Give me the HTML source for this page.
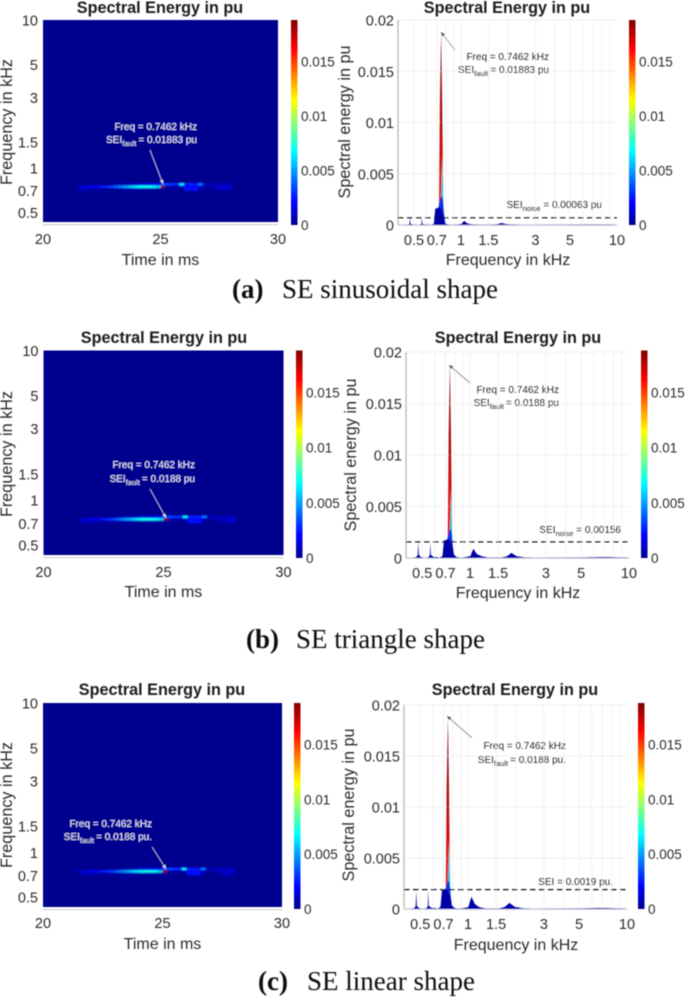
<!DOCTYPE html>
<html lang="en">
<head>
<meta charset="utf-8">
<title>Spectral Energy in pu</title>
<style>
html,body{margin:0;padding:0;background:#fff;}
#figure{display:block;width:685px;height:998px;}
text{font-family:"Liberation Sans",sans-serif;}
text.cap{font-family:"Liberation Serif",serif;font-size:27px;}
</style>
</head>
<body>
<svg id="figure" xmlns="http://www.w3.org/2000/svg" width="685" height="998" viewBox="0 0 685 998">
<defs>
<filter id="soft" x="-5%" y="-5%" width="110%" height="110%"><feGaussianBlur stdDeviation="0.42"/></filter>
<filter id="heatBlur" x="-20%" y="-200%" width="140%" height="500%"><feGaussianBlur stdDeviation="0.4"/></filter>
<linearGradient id="jet" x1="0" y1="1" x2="0" y2="0">
<stop offset="0" stop-color="#00008f"/><stop offset="0.11" stop-color="#0000ff"/><stop offset="0.36" stop-color="#00ffff"/><stop offset="0.61" stop-color="#ffff00"/><stop offset="0.86" stop-color="#ff0000"/><stop offset="1" stop-color="#800000"/>
</linearGradient>
<linearGradient id="peakRed" x1="0" y1="0" x2="0" y2="1">
<stop offset="0" stop-color="#7a0a20"/><stop offset="0.4" stop-color="#b01010"/><stop offset="0.75" stop-color="#e81010"/><stop offset="1" stop-color="#e81010"/>
</linearGradient>
<linearGradient id="peakCyan" x1="0" y1="0" x2="0" y2="1">
<stop offset="0" stop-color="#50e8c8"/><stop offset="0.55" stop-color="#10c8f0"/><stop offset="1" stop-color="#0070ff"/>
</linearGradient>
</defs>
<g id="root" filter="url(#soft)" fill="#2b2b2b"></g>
</svg>
<script>
// ---------- chart data ----------
const colorbarTicks = [0, 0.005, 0.01, 0.015];
const colorbarMax = 0.0188;
const heatFreqTicks = [0.5, 0.7, 1, 1.5, 3, 5, 10];
const heatTimeTicks = [20, 25, 30];
const spectrumFreqTicks = [0.5, 0.7, 1, 1.5, 3, 5, 10];
const spectrumGridFreqs = [0.5, 0.6, 0.7, 0.8, 0.9, 1, 1.5, 2, 3, 4, 5, 6, 7, 8, 9];
const spectrumEnergyTicks = [0, 0.005, 0.01, 0.015, 0.02];

const heatTimes = [21.4,21.6,21.8,22,22.2,22.4,22.6,22.8,23,23.2,23.4,23.6,23.8,24,24.2,24.4,24.6,24.8,25,25.2,25.4,25.6,25.8,26,26.2,26.4,26.6,26.8,27,27.2,27.4,27.6,27.8,28];
const heatRowUpper = [0,0,0,0,0,0,0,0,0.0003,0.0004,0.0006,0.0008,0.001,0.0012,0.0014,0.0015,0.0016,0.0018,0.0035,0.0032,0.003,0.0028,0.0065,0.0024,0.0024,0.0024,0.0042,0.0009,0.0007,0.0007,0.0008,0.0008,0.0008,0];
const heatRowMain = [0.0008,0.0014,0.0016,0.0017,0.002,0.0024,0.0028,0.0032,0.0038,0.0044,0.005,0.0056,0.0062,0.0068,0.007,0.007,0.0066,0.0058,0.0188,0.0008,0.0006,0.0006,0.0006,0.0022,0.0022,0.0022,0.0008,0.0004,0.0004,0.0006,0.0012,0.0012,0.0012,0];
const heatRowLower = [0.0002,0.0008,0.0008,0.0006,0.0003,0.0002,0.0002,0.0003,0.0004,0.0004,0.0004,0.0004,0.0004,0.0004,0.0004,0.0004,0.0003,0.0002,0.0002,0,0,0,0,0.0022,0.0022,0.0022,0.0004,0,0,0,0.0008,0.001,0.0008,0];
const heatRowEdges = [0.70, 0.73, 0.76, 0.79];

const spectrumFreqs = [0.44,0.46,0.468,0.472,0.476,0.49,0.51,0.535,0.55,0.558,0.562,0.566,0.59,0.62,0.64,0.67,0.685,0.71,0.74,0.77,0.79,0.82,0.87,0.95,1,1.05,1.1,1.17,1.3,1.55,1.7,1.82,1.95,2.2,2.5,4.5,7,9,10];
const baseSinusoidal = [0,0.00002,0.0001,0.0007,0.0001,0.00002,0,0,0.00002,0.0001,0.0007,0.0001,0.00002,0.00001,0,0.0001,0.0016,0.0017,0.0017,0.0009,0.0002,0.00004,0,0.00002,0.00008,0.0004,0.00015,0.00006,0.00001,0.00001,0.00006,0.0002,0.00008,0.00002,0,0.00001,0.00004,0.00002,0];
const baseTriangle = [0,0.0001,0.0003,0.0015,0.0003,0.0001,0,0,0.0001,0.0003,0.0015,0.0003,0.0001,0.0001,0,0.0002,0.0017,0.0018,0.0018,0.0012,0.0004,0.0001,0,0.0001,0.0002,0.0009,0.0004,0.0002,0.00003,0.00003,0.00015,0.0005,0.0002,0.00005,0,0.00002,0.0001,0.00004,0];
const baseLinear = [0,0.0001,0.0003,0.0018,0.0003,0.0001,0,0,0.0001,0.0003,0.0018,0.0003,0.0001,0.0001,0,0.0002,0.0018,0.0019,0.0019,0.0013,0.0004,0.0001,0,0.0001,0.0002,0.0012,0.0005,0.0002,0.00003,0.00003,0.0002,0.0006,0.00025,0.00006,0,0.00002,0.0001,0.00004,0];

const peakFreqs = [0.722,0.733,0.7462,0.758,0.772];
const peakValues = [0,0.012,0.0188,0.012,0];
const cyanFreqs = [0.735,0.748,0.757,0.766,0.78];
const cyanValues = [0,0.0035,0.0068,0.0035,0];
const blueFreqs = [0.70,0.72,0.74,0.76,0.78,0.80];
const blueValues = [0,0.0019,0.0027,0.0027,0.0011,0];

const noiseLevels = [0.0007, 0.00156, 0.0019];
const captionLetters = ["(a)", "(b)", "(c)"];
const captionTitles = ["SE sinusoidal shape", "SE triangle shape", "SE linear shape"];
const faultLabels = ["= 0.01883 pu", "= 0.0188 pu", "= 0.0188 pu."];
const noiseLabels = [["SEI","noise"," = 0.00063 pu"], ["SEI","noise"," = 0.00156"], ["SEI",""," = 0.0019 pu."]];
const spectrumBases = [baseSinusoidal, baseTriangle, baseLinear];

// ---------- layout ----------
const layouts = [
 {h:{l:43,r:278,t:20,b:222,cb:291,cbT:20,cbB:225,tx:160,ty:13,xt:244,xl:265,yl:12,ymid:122,nr:197,n1:130,n2:143,a:[150,150,163,184]},
  s:{l:398,r:617,t:20,b:225,cb:629,cbT:20,cbB:225,tx:507,ty:13,xt:245,xl:265,yl:350,ymid:122,xmid:508,nl:549,n1:60,n2:73,a:[455,50,441,32],noiseR:602,noiseY:208},capY:298,capA:232,capB:282},
 {h:{l:43.5,r:283.5,t:350.5,b:555,cb:296,cbT:350.5,cbB:558,tx:164,ty:343,xt:577,xl:597,yl:12,ymid:454,nr:195,n1:468,n2:482,a:[150,489,166,518]},
  s:{l:406,r:629,t:352,b:558,cb:641,cbT:350.5,cbB:558,tx:518,ty:343,xt:578,xl:598,yl:356,ymid:455,xmid:518,nl:559,n1:393,n2:406,a:[470,383,449,365],noiseR:621,noiseY:533},capY:648,capA:246,capB:296},
 {h:{l:43,r:282,t:703,b:907,cb:294,cbT:703,cbB:909,tx:162,ty:695,xt:928,xl:949,yl:12,ymid:805,nr:152,n1:827,n2:840,a:[152,847,166,869]},
  s:{l:404,r:627,t:705,b:909,cb:638,cbT:703,cbB:909,tx:515,ty:695,xt:929,xl:950,yl:354,ymid:805,xmid:516,nl:566,n1:749,n2:763,a:[472,738,447,716],noiseR:613,noiseY:885},capY:990,capA:258,capB:307}
];

// ---------- helpers ----------
const NS = "http://www.w3.org/2000/svg";
const root = document.getElementById("root");
function add(tag, attrs, parent){
  const n = document.createElementNS(NS, tag);
  for(const k in attrs){ n.setAttribute(k, attrs[k]); }
  parent.appendChild(n);
  return n;
}
function jet(v){
  const u = Math.max(0, Math.min(1, v / colorbarMax));
  const st = [[0,0,0,143],[0.11,0,0,255],[0.36,0,255,255],[0.61,255,255,0],[0.86,255,0,0],[1,128,0,0]];
  for(let i=1;i<st.length;i++){
    if(u<=st[i][0]){
      const a=st[i-1], b=st[i], f=(u-a[0])/(b[0]-a[0]);
      return "rgb("+[1,2,3].map(j=>Math.round(a[j]+(b[j]-a[j])*f)).join(",")+")";
    }
  }
  return "rgb(128,0,0)";
}
function logScale(d0,d1,r0,r1){
  return v => r0 + (Math.log10(v)-Math.log10(d0))/(Math.log10(d1)-Math.log10(d0))*(r1-r0);
}
function linScale(d0,d1,r0,r1){
  return v => r0 + (v-d0)/(d1-d0)*(r1-r0);
}
function tickFmt(v){ return String(v); }

function drawColorbar(g, p){
  const bar = add("rect",{x:p.cb,y:p.cbT,width:6.5,height:p.cbB-p.cbT,fill:"url(#jet)"},g);
  
  
  const cy = linScale(0,colorbarMax,p.cbB,p.cbT);
  colorbarTicks.forEach(v=>{
    const t = add("text",{x:p.cb+10,y:cy(v)+5,"font-size":"13.5"},g);
    t.textContent = tickFmt(v);
    
    
  });
}
function drawTitle(g,x,y){
  const t = add("text",{x:x,y:y,"font-size":"16.2","font-weight":"bold","text-anchor":"middle",fill:"#1a1a1a"},g);
  t.textContent = "Spectral Energy in pu";
  
  
}
function drawAnnot(g,xEnd,y1,y2,faultText,color){
  const a = add("text",{x:xEnd,y:y1,"font-size":"10","text-anchor":"end",fill:color},g);
  a.textContent = "Freq = 0.7462 kHz";
  
  
  const b = add("text",{x:xEnd,y:y2,"font-size":"10","text-anchor":"end",fill:color},g);
  
  
  const s1 = add("tspan",{},b); s1.textContent = "SEI";
  const s2 = add("tspan",{dy:"3","font-size":"7.5"},b); s2.textContent = "fault";
  const s3 = add("tspan",{dy:"-3",dx:"2"},b); s3.textContent = faultText;
}
function drawArrow(g,c,color){
  const l = add("line",{x1:c[0],y1:c[1],x2:c[2],y2:c[3],stroke:color,"stroke-width":"0.6"},g);
  
  
  const ang = Math.atan2(c[3]-c[1],c[2]-c[0]);
  const pts = [[c[2],c[3]],[c[2]-4.5*Math.cos(ang-0.4),c[3]-4.5*Math.sin(ang-0.4)],[c[2]-4.5*Math.cos(ang+0.4),c[3]-4.5*Math.sin(ang+0.4)]];
  const h = add("polygon",{points:pts.map(q=>q.join(",")).join(" "),fill:color},g);
  
  
}

function drawHeat(i){
  const p = layouts[i].h;
  const g = add("g",{},root);
  
  
  const x = linScale(20,30,p.l,p.r);
  const y = logScale(0.43,10,p.b,p.t);
  const bg = add("rect",{x:p.l,y:p.t,width:p.r-p.l,height:p.b-p.t,fill:"#00008f"},g);
  
  
  const cells = add("g",{filter:"url(#heatBlur)"},g);
  
  
  [heatRowLower,heatRowMain,heatRowUpper].forEach((row,ri)=>{
    row.forEach((v,ti)=>{
      if(v<=0){ return; }
      const c = add("rect",{x:x(heatTimes[ti]),y:y(heatRowEdges[ri+1]),width:x(heatTimes[ti]+0.2)-x(heatTimes[ti])+0.3,height:y(heatRowEdges[ri])-y(heatRowEdges[ri+1]),fill:jet(v)},cells);
      
      
    });
  });
  const base = add("line",{x1:p.l,x2:p.r,y1:p.b+2.6,y2:p.b+2.6,stroke:"#c8c8c8","stroke-width":"1"},g);
  
  
  heatFreqTicks.forEach(f=>{
    const t = add("text",{x:p.l-5,y:y(f)+5.5,"font-size":"14.5","text-anchor":"end"},g);
    t.textContent = tickFmt(f);
    
    
  });
  heatTimeTicks.forEach(v=>{
    const t = add("text",{x:x(v),y:p.xt,"font-size":"14.5","text-anchor":"middle"},g);
    t.textContent = tickFmt(v);
    
    
  });
  const xl = add("text",{x:(p.l+p.r)/2,y:p.xl,"font-size":"16","text-anchor":"middle"},g);
  xl.textContent = "Time in ms";
  
  
  const yl = add("text",{x:0,y:0,"font-size":"16.2","text-anchor":"middle",transform:"translate("+p.yl+","+p.ymid+") rotate(-90)"},g);
  yl.textContent = "Frequency in kHz";
  
  
  drawTitle(g,p.tx,p.ty);
  drawAnnot(g,p.nr,p.n1,p.n2,faultLabels[i],"#e8e8ff");
  drawArrow(g,p.a,"#d8d8f0");
  drawColorbar(g,p);
}

function area(freqs,vals,x,y){
  const pts = freqs.map((f,k)=>x(f).toFixed(2)+","+y(vals[k]).toFixed(2));
  return "M"+x(freqs[0]).toFixed(2)+","+y(0).toFixed(2)+" L"+pts.join(" L")+" L"+x(freqs[freqs.length-1]).toFixed(2)+","+y(0).toFixed(2)+" Z";
}

function drawSpectrum(i){
  const p = layouts[i].s;
  const g = add("g",{},root);
  
  
  const x = logScale(0.395,10,p.l,p.r);
  const y = linScale(0,0.02,p.b,p.t);
  spectrumGridFreqs.forEach(f=>{
    const l = add("line",{x1:x(f),x2:x(f),y1:p.t,y2:p.b,stroke:"#efefef","stroke-width":"0.8"},g);
    
    
  });
  spectrumEnergyTicks.forEach(v=>{
    const l = add("line",{x1:p.l,x2:p.r,y1:y(v),y2:y(v),stroke:v===0?"#ccccdd":"#ececec","stroke-width":v===0?"1.5":"0.8"},g);
    
    
    const t = add("text",{x:p.l-4,y:y(v)+5.5,"font-size":"14.5","text-anchor":"end"},g);
    t.textContent = tickFmt(v);
    
    
  });
  const axis = add("line",{x1:p.l,x2:p.l,y1:p.t,y2:p.b,stroke:"#bdbdbd","stroke-width":"1.4"},g);
  
  
  const red = add("path",{d:area(peakFreqs,peakValues,x,y),fill:"url(#peakRed)"},g);
  
  
  const cyan = add("path",{d:area(cyanFreqs,cyanValues,x,y),fill:"url(#peakCyan)"},g);
  
  
  const blue = add("path",{d:area(blueFreqs,blueValues,x,y),fill:"#0a30e0"},g);
  
  
  const navy = add("path",{d:area(spectrumFreqs,spectrumBases[i],x,y),fill:"#0000a8"},g);
  
  
  const dash = add("line",{x1:p.l,x2:p.r,y1:y(noiseLevels[i]),y2:y(noiseLevels[i]),stroke:"#111","stroke-width":"1.2","stroke-dasharray":"5.5 3.5"},g);
  
  
  spectrumFreqTicks.forEach(f=>{
    const t = add("text",{x:x(f),y:p.xt,"font-size":"14.5","text-anchor":"middle"},g);
    t.textContent = tickFmt(f);
    
    
  });
  const xl = add("text",{x:p.xmid,y:p.xl,"font-size":"16","text-anchor":"middle"},g);
  xl.textContent = "Frequency in kHz";
  
  
  const yl = add("text",{x:0,y:0,"font-size":"16.2","text-anchor":"middle",transform:"translate("+p.yl+","+p.ymid+") rotate(-90)"},g);
  yl.textContent = "Spectral energy in pu";
  
  
  drawTitle(g,p.tx,p.ty);
  drawAnnot(g,p.nl,p.n1,p.n2,faultLabels[i],"#2b2b2b");
  drawArrow(g,p.a,"#555");
  const n = add("text",{x:p.noiseR,y:p.noiseY,"font-size":"10","text-anchor":"end"},g);
  
  
  const lab = noiseLabels[i];
  const a1 = add("tspan",{},n); a1.textContent = lab[0];
  if(lab[1]){
    const a2 = add("tspan",{dy:"3","font-size":"7.5"},n); a2.textContent = lab[1];
    const a3 = add("tspan",{dy:"-3"},n); a3.textContent = lab[2];
  } else {
    const a3 = add("tspan",{},n); a3.textContent = lab[2];
  }
  drawColorbar(g,p);
}

function drawCaption(i){
  const c = layouts[i];
  const a = add("text",{x:c.capA,y:c.capY,"class":"cap","font-weight":"bold",fill:"#111"},root);
  a.textContent = captionLetters[i];
  
  
  const b = add("text",{x:c.capB,y:c.capY,"class":"cap",fill:"#111"},root);
  b.textContent = captionTitles[i];
  
  
}

[0,1,2].forEach(i=>{ drawHeat(i); drawSpectrum(i); drawCaption(i); });
</script>
</body>
</html>
